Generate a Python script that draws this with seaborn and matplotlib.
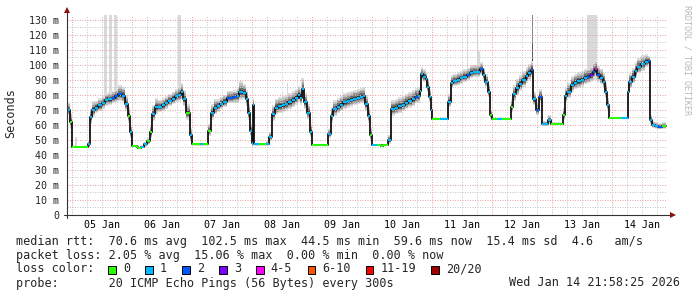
import numpy as np
import pandas as pd
import matplotlib
matplotlib.use("Agg")
import matplotlib.pyplot as plt
import seaborn as sns
from matplotlib.patches import Rectangle

# ---------------- data ----------------
start = pd.Timestamp("2026-01-04 21:58:25")
span_hours = 240

hours = [0.0, 1.0, 1.9, 8.5, 9.0, 10.0, 11.2, 12.5, 13.9, 15.2, 16.5, 17.9, 19.2, 20.5, 21.9,
         23.0, 24.2, 25.0, 25.9, 27.9, 28.5, 29.6, 30.8, 32.1, 33.0, 34.0, 35.0, 36.5, 37.9,
         39.2, 40.5, 41.9, 43.2, 44.5, 45.4, 46.4, 47.6, 49.0, 49.9, 53.2, 54.2, 56.5, 57.6,
         58.6, 59.9, 61.2, 62.5, 63.9, 65.2, 66.5, 67.9, 68.9, 70.2, 71.4, 72.4, 73.1, 73.8,
         74.3, 74.9, 76.8, 79.4, 80.6, 81.8, 83.0, 84.5, 85.9, 87.2, 88.5, 89.9, 91.2, 92.2,
         93.0, 93.8, 94.9, 96.0, 97.0, 97.9, 104.5, 105.4, 106.4, 107.9, 109.2, 110.5, 111.9,
         113.2, 114.5, 115.9, 117.2, 118.4, 119.3, 120.3, 121.2, 121.9, 124.0, 125.6, 126.4,
         128.5, 129.5, 131.2, 132.5, 133.9, 135.2, 136.5, 137.9, 139.2, 140.4, 141.0, 141.7,
         142.5, 143.4, 144.1, 144.8, 145.5, 146.1, 149.2, 152.5, 153.4, 154.5, 155.9, 157.2,
         158.5, 159.9, 161.2, 162.5, 163.9, 165.0, 166.2, 167.3, 168.4, 169.1, 169.9, 172.0,
         174.0, 177.5, 178.5, 179.6, 180.8, 182.1, 183.4, 184.5, 185.6, 186.3, 187.7, 188.6,
         189.9, 192.5, 193.5, 198.3, 199.0, 200.1, 201.4, 202.8, 204.1, 205.5, 206.8, 208.1,
         209.3, 210.4, 211.1, 211.9, 213.0, 214.2, 215.2, 216.0, 216.8, 221.6, 224.3, 224.9,
         225.9, 227.1, 228.1, 229.6, 231.0, 232.2, 233.0, 233.9, 235.2, 236.5, 237.9, 239.6]

median_ms = [70, 62, 45.5, 47, 65, 70, 71.5, 73, 74.5, 76.5, 77, 78, 79, 80.4, 79.5,
             74, 66, 55, 46, 45.5, 44.5, 45.3, 47, 49, 55, 67, 71.8, 72, 73,
             74.5, 76, 77.5, 79, 80, 81.8, 77, 68, 53, 47, 47, 47, 56, 68,
             71.5, 72.5, 74, 75.5, 78, 78, 78.5, 79, 82, 81.5, 77, 68, 56, 48,
             73, 47, 47, 47.5, 52, 67, 71.6, 72.5, 73, 74, 75, 76.5, 78, 80,
             78, 84, 75, 68.2, 55.6, 46.7, 54, 66, 70.4, 72.2, 73.5, 75, 76,
             76.7, 77.5, 78.2, 78.9, 79, 73.8, 66, 53.3, 46.7, 46.7, 46, 46.7,
             50, 70.7, 71.5, 72.5, 73.5, 74.9, 76, 77.1, 78.9, 79.3, 82.7, 93.8,
             92.2, 90.4, 85.6, 78.9, 70, 63.8, 63.8, 75.6, 88.2, 89.3, 90.2, 91.1,
             92.3, 93.3, 94.9, 95.3, 95.6, 97.1, 93.3, 88.9, 82.2, 66.7, 63.8, 63.8,
             63.8, 72.2, 80.4, 84.4, 87.3, 90, 92.7, 94.5, 96.7, 77, 70, 78.9,
             60.7, 63.3, 60.7, 66.7, 79.3, 82.2, 86.7, 88.2, 89.2, 90, 91.5, 92.2,
             93.3, 95.6, 97.1, 93.3, 91.6, 88.9, 82.2, 73.3, 64.4, 64.4, 82.2, 88.9,
             92.2, 96, 98.9, 100.4, 102.2, 102.5, 63.3, 60, 59.3, 58.9, 59.3, 59.6]

# loss bucket index per sample (0 -> "0", 1 -> "1", 2 -> "2", 3 -> "3", 4 -> "4-5")
loss_bucket = [1, 0, 0, 1, 1, 1, 1, 1, 1, 1, 1, 2, 2, 2, 1,
               1, 0, 1, 0, 0, 0, 1, 1, 0, 0, 1, 1, 1, 1,
               1, 1, 1, 1, 1, 1, 1, 0, 1, 0, 1, 0, 0, 1,
               1, 1, 1, 1, 2, 2, 2, 1, 1, 1, 1, 1, 1, 1,
               1, 1, 0, 1, 1, 1, 1, 1, 1, 1, 1, 1, 1, 1,
               1, 1, 1, 1, 1, 0, 1, 1, 1, 1, 1, 1, 1,
               1, 1, 1, 1, 1, 1, 1, 0, 1, 0, 0, 0,
               1, 1, 1, 1, 1, 1, 1, 1, 2, 1, 1, 1,
               1, 1, 1, 1, 1, 0, 1, 1, 1, 1, 1, 1,
               1, 2, 1, 1, 1, 2, 1, 1, 1, 0, 0, 1,
               0, 0, 1, 1, 1, 1, 1, 1, 2, 1, 2, 2,
               1, 1, 0, 0, 1, 1, 1, 1, 1, 1, 1, 2,
               3, 2, 4, 2, 1, 1, 1, 1, 0, 1, 1, 1,
               1, 1, 1, 1, 1, 2, 1, 1, 1, 2, 0, 0]

# spread of the ping "smoke" around the median, ms
smoke_ms = [4, 5, 0.6, 2, 5, 5, 4, 4, 4, 4, 4, 4, 4, 5, 5,
            5, 5, 4, 0.8, 0.8, 0.8, 1, 1.5, 2, 4, 5, 5, 4, 4,
            4, 4, 4, 4, 5, 5, 5, 5, 4, 0.8, 0.8, 0.8, 4, 5,
            5, 4, 4, 4, 4, 4, 4, 5, 6, 5, 5, 5, 4, 3,
            4, 0.8, 0.8, 1.5, 3, 5, 5, 5, 5, 5, 5, 5, 5, 5,
            5, 6, 5, 5, 4, 0.8, 3, 5, 5, 5, 5, 5, 5,
            5, 5, 5, 5, 5, 5, 5, 4, 0.8, 0.8, 0.8, 0.8,
            3, 5, 5, 5, 5, 5, 5, 5, 5, 5, 5, 4,
            4, 4, 4, 4, 4, 0.8, 0.8, 4, 4, 4, 4, 4,
            4, 4, 4, 4, 4, 4, 4, 4, 4, 3, 0.8, 0.8,
            0.8, 4, 5, 5, 5, 5, 5, 5, 5, 4, 4, 4,
            1.5, 3, 1, 4, 5, 5, 5, 5, 5, 5, 5, 5,
            5, 5, 5, 5, 5, 5, 5, 4, 0.8, 0.8, 5, 5,
            5, 5, 5, 5, 4, 3, 3, 2, 2, 2, 2, 2]

# isolated slow pings (light smoke columns)
spike_start_h = [3.2, 14.8, 16.8, 18.9, 44.5, 69.2, 88.0, 93.6, 159.9, 163.9, 164.5, 207.9]
spike_end_h = [3.8, 16.0, 18.0, 20.0, 45.7, 69.8, 88.5, 94.2, 160.5, 164.5, 165.3, 211.9]
spike_base_ms = [45.5, 76, 77, 78, 79, 80, 74, 82, 90, 94, 94, 90]
spike_top_ms = [52, 133, 133, 133, 133, 89, 88, 91, 133, 133, 109, 133]

# the one dark spike on 12 Jan
dark_spike_h = [185.8, 186.3]
dark_spike_levels_ms = [96.7, 104, 115, 133]

loss_labels = ["0", "1", "2", "3", "4-5", "6-10", "11-19", "20/20"]
loss_colors = ["#26ff00", "#00b8ff", "#0059ff", "#7e00ff", "#ff00ff", "#ff5500", "#ff0000", "#a10000"]

stats_line1 = "median rtt:  70.6 ms avg  102.5 ms max  44.5 ms min  59.6 ms now  15.4 ms sd  4.6   am/s"
stats_line2 = "packet loss: 2.05 % avg  15.06 % max  0.00 % min  0.00 % now"
probe_line = "probe:       20 ICMP Echo Pings (56 Bytes) every 300s"
stamp = "Wed Jan 14 21:58:25 2026"

# ---------------- style ----------------
sns.set_style("white")
plt.rcParams["font.family"] = ["DejaVu Sans Mono", "DejaVu Sans"]
MONO = "DejaVu Sans Mono"

W, H = 697, 297
fig = plt.figure(figsize=(W / 100, H / 100), dpi=100)
fig.patch.set_facecolor("white")
ax = fig.add_axes([67 / W, (H - 215) / H, 600 / W, 200 / H])
ax.set_facecolor("white")

h = np.array(hours, dtype=float)
m = np.array(median_ms, dtype=float)
s = np.array(smoke_ms, dtype=float)

# light spikes
for a, b, lo, hi in zip(spike_start_h, spike_end_h, spike_base_ms, spike_top_ms):
    ax.bar(a, hi - lo, bottom=lo, width=b - a, align="edge", color="#d9d9d9",
           linewidth=0, zorder=1)
# dark spike
dark_cols = ["#3c3c3c", "#5e5e5e", "#8a8a8a"]
for i, c in enumerate(dark_cols):
    lo, hi = dark_spike_levels_ms[i], dark_spike_levels_ms[i + 1]
    ax.bar(dark_spike_h[0], hi - lo, bottom=lo, width=dark_spike_h[1] - dark_spike_h[0],
           align="edge", color=c, linewidth=0, zorder=1.1)

# smoke
levels = [(1.2, "#dedede"), (0.95, "#c0c0c0"), (0.7, "#989898"), (0.46, "#6c6c6c"), (0.24, "#3a3a3a")]
for k, col in levels:
    ax.fill_between(h, m - 0.75 * s * k, m + s * k, step="post", color=col, linewidth=0, zorder=1.2)

# median line (black connectors) + loss-coloured steps
sns.lineplot(x=h, y=m, drawstyle="steps-post", color="#111111", linewidth=1.3,
             estimator=None, sort=False, ax=ax, zorder=4)
ax.hlines(m[:-1], h[:-1], h[1:], colors=[loss_colors[i] for i in loss_bucket[:-1]],
          linewidth=1.5, zorder=5)

ax.set_xlim(0, span_hours)
ax.set_ylim(0, 133.33)
ax.set_xlabel("")
ax.set_ylabel("")

# ticks / grid
end = start + pd.Timedelta(hours=span_hours)
midnights = pd.date_range(start.normalize() + pd.Timedelta(days=1), end, freq="D")
mid_h = np.array((midnights - start) / pd.Timedelta(hours=1))
six = pd.date_range(start.ceil("6h"), end, freq="6h")
six_h = np.array((six - start) / pd.Timedelta(hours=1))

ax.set_xticks(mid_h)
ax.set_xticklabels([])
ax.set_xticks(six_h, minor=True)
ax.set_yticks(np.arange(0, 131, 10))
ax.set_yticklabels([("0" if v == 0 else f"{v} m") for v in range(0, 131, 10)],
                   fontsize=7.2, family=MONO)
ax.set_yticks(np.arange(5, 131, 10), minor=True)

ax.tick_params(axis="y", which="both", length=2, width=0.7, color="#333333", pad=3.6, direction="out")
ax.tick_params(axis="x", which="major", length=3, width=0.7, color="#333333", direction="out")
ax.tick_params(axis="x", which="minor", length=1.5, width=0.7, color="#333333", direction="out")

ax.set_axisbelow(False)
ax.grid(which="major", color="#e8a0a0", linestyle=(0, (1, 1.5)), linewidth=0.72, zorder=2.5)
ax.grid(which="minor", color="#c6c6c6", linestyle=(0, (1, 1.5)), linewidth=0.72, zorder=2.5)

for sp in ax.spines.values():
    sp.set_visible(False)

# axes lines with arrows
ax.plot([-0.005, 1.009], [0, 0], transform=ax.transAxes, color="#333333", lw=0.8,
        clip_on=False, zorder=6)
ax.plot([0, 0], [-0.015, 1.02], transform=ax.transAxes, color="#333333", lw=0.8,
        clip_on=False, zorder=6)
ax.plot([1.0095], [0], marker=">", ms=4, color="#8b1010", transform=ax.transAxes,
        clip_on=False, zorder=7, markeredgewidth=0)
ax.plot([0], [1.025], marker="^", ms=4, color="#8b1010", transform=ax.transAxes,
        clip_on=False, zorder=7, markeredgewidth=0)

# day labels at noon
for d, mh in zip(midnights, mid_h):
    ax.text(mh + 12, -0.05, d.strftime("%d %b"), transform=ax.get_xaxis_transform(),
            ha="center", va="center", fontsize=7.2, family=MONO, color="#000000")

# y label and watermark
fig.text(11 / W, 1 - 113 / H, "Seconds", rotation=90, ha="center", va="center",
         fontsize=8.5, family=MONO)
fig.text(687 / W, 1 - 60 / H, "RRDTOOL / TOBI OETIKER", rotation=270, ha="center",
         va="center", fontsize=6, family=MONO, color="#b8b8b8")

# legend block
fs = 8.5
fig.text(16 / W, 1 - 241 / H, stats_line1, ha="left", va="center", fontsize=fs, family=MONO)
fig.text(16 / W, 1 - 255 / H, stats_line2, ha="left", va="center", fontsize=fs, family=MONO)
fig.text(16 / W, 1 - 269 / H, "loss color:", ha="left", va="center", fontsize=fs, family=MONO)
fig.text(16 / W, 1 - 283 / H, probe_line, ha="left", va="center", fontsize=fs, family=MONO)
fig.text(680 / W, 1 - 283 / H, stamp, ha="right", va="center", fontsize=fs, family=MONO)

bx = 108.3
for lab, col in zip(loss_labels, loss_colors):
    fig.patches.append(Rectangle((bx / W, 1 - 273.5 / H), 7.5 / W, 7.5 / H,
                                 transform=fig.transFigure, facecolor=col,
                                 edgecolor="black", linewidth=0.7))
    fig.text((bx + 14.5) / W, 1 - 269 / H, lab, ha="left", va="center", fontsize=fs, family=MONO)
    bx += 37 + 7.1 * (len(lab) - 1)

fig.savefig("out.png", dpi=100, facecolor="white")
